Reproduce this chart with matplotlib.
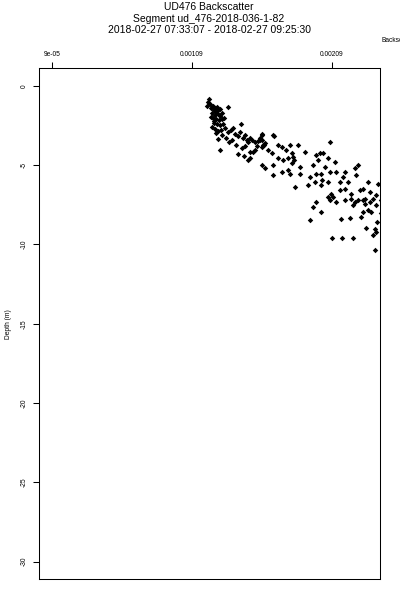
"UD476 backscatter vs depth"
import matplotlib
matplotlib.use('Agg')
import matplotlib.pyplot as plt

plt.rcParams['font.family'] = ['Liberation Sans', 'DejaVu Sans']
plt.rcParams['axes.unicode_minus'] = False

# backscatter (x 1e-3) and depth (m)
bs_milli = [
    1.214, 1.207, 1.222, 1.200, 1.229, 1.243, 1.257, 1.271, 1.250, 1.264,
    1.279, 1.293, 1.236, 1.257, 1.279, 1.293, 1.307, 1.243, 1.264, 1.286,
    1.307, 1.321, 1.250, 1.271, 1.293, 1.314, 1.236, 1.257, 1.279, 1.300,
    1.328, 1.350, 1.307, 1.279, 1.293, 1.264, 1.442, 1.229, 1.250,
    1.350, 1.371, 1.385, 1.400, 1.421, 1.435, 1.456, 1.471, 1.485, 1.492,
    1.506, 1.520, 1.542, 1.563, 1.592, 1.407, 1.421, 1.449, 1.471, 1.506,
    1.528, 1.506, 1.542, 1.556, 1.592, 1.677, 1.577, 1.606, 1.592, 1.613,
    1.378, 1.357, 1.336, 1.492, 1.463,
    1.590, 1.673, 1.577, 1.599, 1.708, 1.732, 1.791, 1.850, 1.760, 1.660,
    1.803, 1.898, 1.812, 1.819, 1.805, 1.708, 1.590, 1.673, 1.732, 1.780,
    1.862, 1.958, 1.994, 2.029, 1.981, 1.862, 1.933, 1.969, 2.017, 1.924,
    1.827, 1.791, 2.017, 1.613, 1.670, 1.634, 1.741, 1.777,
    2.076, 2.004, 2.064, 2.111, 2.040, 2.076, 2.123, 2.182, 2.170, 2.254,
    2.278, 2.266, 2.019, 2.066, 1.981, 2.147, 2.206, 2.348, 2.313, 2.289,
    2.360, 2.088, 2.147, 2.182, 2.230, 2.254, 2.182, 2.123, 2.076, 2.325,
    2.360, 2.384, 2.419, 2.408, 1.981,
    1.957, 2.064, 2.100, 2.230, 2.242, 2.278, 2.313, 2.325, 2.408, 2.313,
    2.349, 2.372, 2.017, 1.933, 2.156, 2.218, 2.301, 2.332, 2.396, 2.384,
    2.408, 2.095, 2.161, 2.244, 2.396, 2.413, 2.440, 2.440,
]
depth = [
    -0.83, -1.01, -1.14, -1.27, -1.39, -1.27, -1.39, -1.33, -1.52, -1.65,
    -1.52, -1.46, -1.71, -1.84, -1.77, -1.90, -1.71, -2.03, -2.09, -2.15,
    -2.09, -2.03, -2.34, -2.41, -2.47, -2.41, -2.59, -2.72, -2.85, -2.78,
    -2.66, -1.33, -3.10, -3.35, -4.05, -2.97, -2.41, -1.96, -2.22,
    -2.91, -2.78, -2.66, -3.04, -3.16, -2.91, -3.29, -3.10, -3.42, -3.54,
    -3.29, -3.42, -3.54, -3.48, -3.42, -3.73, -4.30, -3.92, -3.80, -4.18,
    -4.18, -4.56, -4.05, -3.80, -3.04, -3.16, -3.29, -3.73, -3.86, -3.61,
    -3.42, -3.54, -3.29, -4.68, -4.43,
    -3.10, -3.10, -3.42, -3.73, -3.73, -3.84, -3.73, -3.73, -4.05, -4.26,
    -4.26, -4.15, -4.49, -4.68, -4.87, -4.58, -5.00, -5.00, -5.42, -5.32,
    -5.11, -5.00, -4.68, -4.26, -4.37, -5.53, -5.74, -6.06, -6.27, -6.27,
    -6.37, -5.53, -5.53, -5.19, -5.63, -4.05, -4.68, -4.56,
    -3.52, -4.26, -4.58, -4.79, -5.11, -5.42, -5.42, -5.42, -5.74, -5.21,
    -5.00, -5.63, -5.95, -6.06, -5.53, -6.06, -6.06, -6.06, -6.48, -6.58,
    -6.69, -6.79, -6.58, -6.48, -6.79, -7.32, -7.22, -7.32, -7.22, -7.11,
    -7.32, -7.11, -6.16, -6.90, -7.32,
    -7.64, -7.01, -7.01, -7.11, -7.53, -7.22, -7.22, -7.43, -7.53, -7.95,
    -7.85, -7.95, -7.95, -8.48, -8.42, -8.33, -8.27, -8.97, -9.01, -9.39,
    -9.22, -9.60, -9.60, -9.60, -10.38, -8.59, -7.20, -8.00,
]

x_ticks = [9e-05, 0.00109, 0.00209]
x_tick_labels = ['9e-05', '0.00109', '0.00209']
y_ticks = [0, -5, -10, -15, -20, -25, -30]

title_lines = ['UD476 Backscatter',
               'Segment ud_476-2018-036-1-82',
               '2018-02-27 07:33:07 - 2018-02-27 09:25:30']


def main():
    "main"
    fig = plt.figure(figsize=(4, 6), dpi=100)
    ax = fig.add_axes([0.0965, 0.035, 0.8535, 0.851])

    bs = [v * 1e-3 for v in bs_milli]
    ax.plot(bs, depth, linestyle='none', marker='D', markersize=2.8,
            color='black', markeredgewidth=0)

    ax.set_xlim(-4e-06, 0.002435)
    ax.set_ylim(-31.1, 1.1)

    ax.xaxis.tick_top()
    ax.set_xticks(x_ticks)
    ax.set_xticklabels(x_tick_labels)
    ax.set_yticks(y_ticks)
    ax.set_yticklabels([str(v) for v in y_ticks], rotation=90, va='center')
    ax.tick_params(axis='both', length=4.3, width=0.75, labelsize=4.8,
                   direction='out', pad=3.5)
    for spine in ax.spines.values():
        spine.set_linewidth(0.75)

    ax.set_ylabel('Depth (m)', fontsize=4.8, labelpad=6)

    ys = [1 - 7 / 600, 1 - 18.5 / 600, 1 - 30 / 600]
    for line, y in zip(title_lines, ys):
        fig.text(0.5225, y, line, ha='center', va='center', fontsize=7.5)

    # the reference clips this label at the right edge of the figure
    fig.text(0.955, 1 - 40 / 600, 'Backscatter', ha='left', va='center',
             fontsize=4.8)

    fig.savefig('out.png', dpi=100)


if __name__ == '__main__':
    main()
